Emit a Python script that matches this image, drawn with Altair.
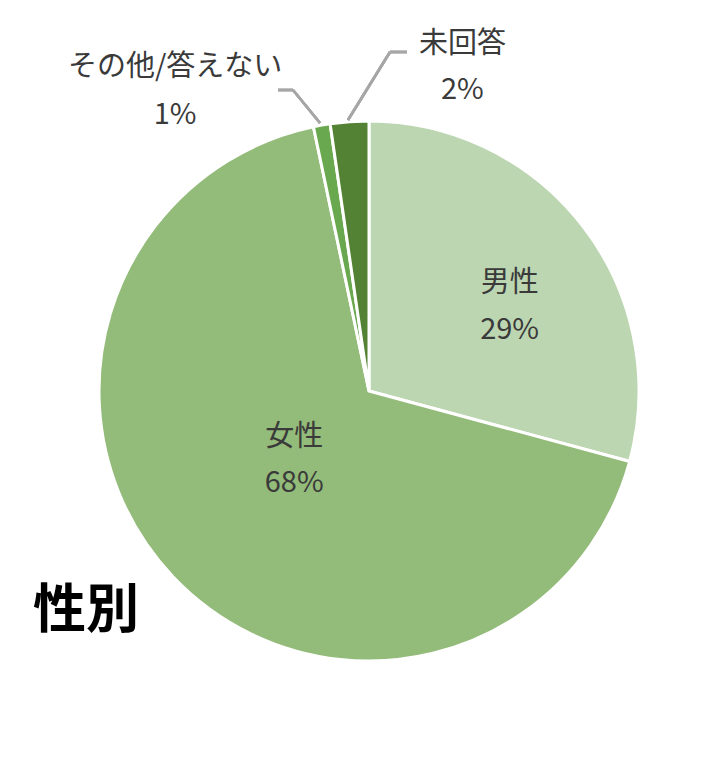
import altair as alt
import pandas as pd

categories = ["男性", "女性", "その他/答えない", "未回答"]
values = [29.2, 67.5, 1.0, 2.3]
pct_labels = ["29%", "68%", "1%", "2%"]
order = [0, 1, 2, 3]
colors = ["#bdd6b2", "#93bb79", "#6aa84f", "#548235"]

df = pd.DataFrame({"cat": categories, "val": values, "pct": pct_labels, "ord": order})

CX, CY, R = 361, 383, 270
FONT = "Noto Sans CJK JP"
TOTAL = sum(values)
theta_scale = alt.Scale(domain=[0, TOTAL])

pie = alt.Chart(df).mark_arc(stroke="white", strokeWidth=3, radius=R).encode(
    theta=alt.Theta("val:Q", stack=True, scale=theta_scale),
    order=alt.Order("ord:Q"),
    x=alt.value(CX), y=alt.value(CY),
    color=alt.Color("cat:N", scale=alt.Scale(domain=categories, range=colors), legend=None),
)

stacked = (
    alt.Chart(df)
    .transform_stack(stack="val", groupby=[], as_=["v0", "v1"], sort=[alt.SortField("ord")])
    .transform_calculate(mid="(datum.v0 + datum.v1) / 2")
)

def label(cat, field, r, dx, dy):
    return stacked.transform_filter(alt.datum.cat == cat).mark_text(
        font=FONT, fontSize=29, color="#3a3a3a", radius=r, dx=dx, dy=dy
    ).encode(
        theta=alt.Theta("mid:Q", stack=False, scale=theta_scale),
        x=alt.value(CX), y=alt.value(CY),
        text=f"{field}:N",
    )

layers = [
    pie,
    label("男性", "cat", 162, 12, -10),
    label("男性", "pct", 162, 12, 37),
    label("女性", "cat", 103, 0, -25),
    label("女性", "pct", 103, 0, 21),
    label("未回答", "cat", 285, 114, -63),
    label("未回答", "pct", 285, 114, -17),
    label("その他/答えない", "cat", 285, -144, -43),
    label("その他/答えない", "pct", 285, -144, 5),
]

lead = alt.Chart(df).mark_rule(color="#a6a6a6", strokeWidth=2.5)
leaders = [
    lead.encode(x=alt.value(340), y=alt.value(112), x2=alt.value(382), y2=alt.value(44)),
    lead.encode(x=alt.value(382), y=alt.value(44), x2=alt.value(399), y2=alt.value(44)),
    lead.encode(x=alt.value(312), y=alt.value(115), x2=alt.value(285), y2=alt.value(82)),
    lead.encode(x=alt.value(285), y=alt.value(82), x2=alt.value(270), y2=alt.value(82)),
]

chart = alt.layer(*layers, *leaders).properties(
    width=705, height=755,
    autosize=alt.AutoSizeParams(type="none"),
    padding=0,
    title=alt.TitleParams(
        "性別", orient="bottom", anchor="start", dx=25, offset=-177,
        fontSize=53, fontWeight="bold", font=FONT, color="black", baseline="top",
    ),
).configure_view(stroke=None)

chart.save("out.html", embed_options={"renderer": "svg", "actions": False})
